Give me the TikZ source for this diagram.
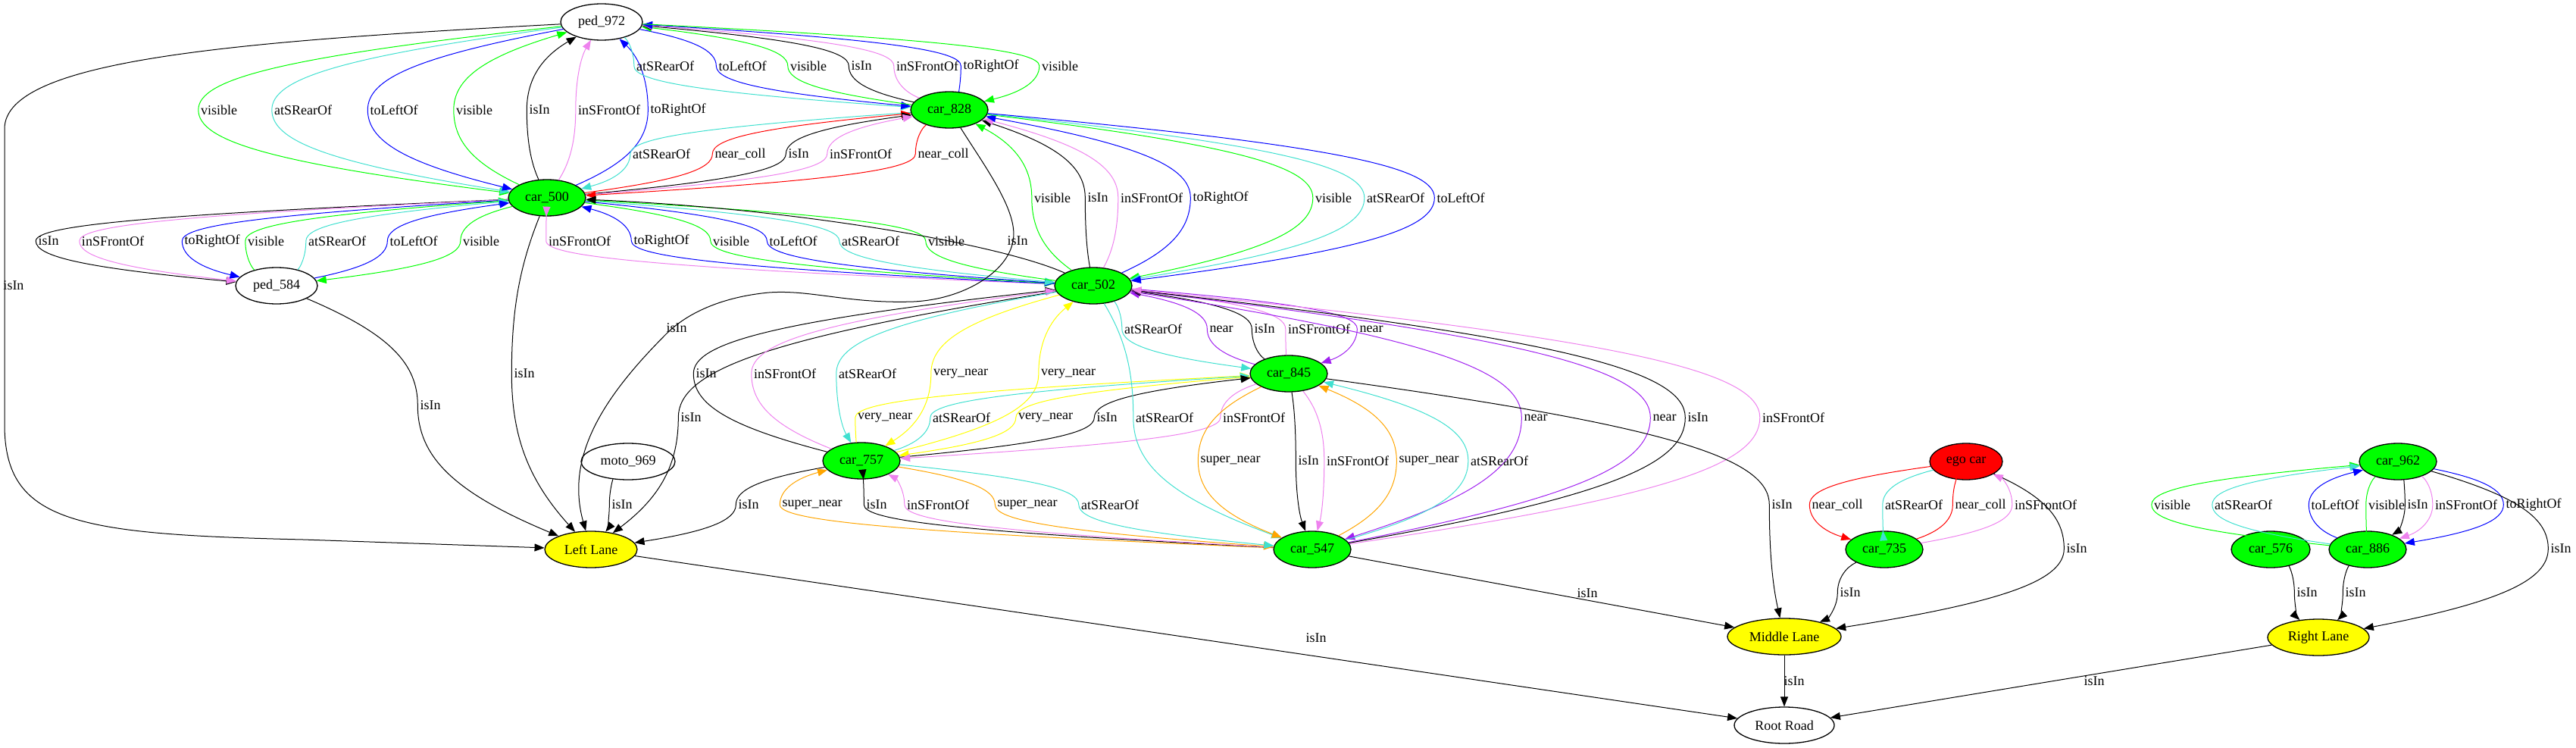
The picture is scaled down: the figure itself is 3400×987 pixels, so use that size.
\documentclass[tikz,border=0pt]{standalone}
\usepackage{fontspec}
\setmainfont{Liberation Serif}
\usetikzlibrary{shapes.geometric,arrows.meta,calc}
\definecolor{cG}{HTML}{00FF00}
\definecolor{cT}{HTML}{40E0D0}
\definecolor{cB}{HTML}{0000FF}
\definecolor{cV}{HTML}{EE82EE}
\definecolor{cP}{HTML}{A020F0}
\definecolor{cO}{HTML}{FFA500}
\definecolor{cY}{HTML}{FFFF00}
\definecolor{cR}{HTML}{FF0000}
\newcounter{lb}
% style, from, to, x, y, text
\newcommand\EL[6]{%
  \stepcounter{lb}%
  \node[lab] (L\thelb) at (#4,#5) {#6};%
  \draw[#1] let \p1=(#2), \p2=([xshift=-3pt]L\thelb.west), \p3=(#3) in
    (#2) .. controls ({\x1+0.8*(\x2-\x1)},{\y1+0.4*(\y2-\y1)}) and (\x2,{\y2-0.35*(\y2-\y1)}) .. (\p2)
    .. controls (\x2,{\y2+0.35*(\y3-\y2)}) and ({\x3+0.8*(\x2-\x3)},{\y3+0.4*(\y2-\y3)}) .. (#3);}
\begin{document}
\begin{tikzpicture}[x=1pt,y=-1pt,
  gv/.style={ellipse, draw, line width=1.3pt, inner sep=0pt, minimum height=48pt, font=\fontsize{18}{20}\selectfont},
  car/.style={gv, fill=cG, minimum width=102pt},
  lane/.style={gv, fill=cY},
  lab/.style={inner sep=0pt, font=\fontsize{18}{20}\selectfont},
  edge/.style={line width=1pt, -{Triangle[length=13pt,width=10pt]}},
  Ek/.style={edge, draw=black},
  Eg/.style={edge, draw=cG},
  Et/.style={edge, draw=cT},
  Eu/.style={edge, draw=cB},
  Ev/.style={edge, draw=cV},
  Ep/.style={edge, draw=cP},
  Eo/.style={edge, draw=cO},
  Ey/.style={edge, draw=cY},
  Er/.style={edge, draw=cR}]
\useasboundingbox (0,0) rectangle (3400,987);
% nodes
\node[gv, minimum width=108pt] (ped972) at (794,29) {ped\_972};
\node[car] (car828) at (1253,145) {car\_828};
\node[car] (car500) at (722,261) {car\_500};
\node[gv, minimum width=108pt] (ped584) at (365,377) {ped\_584};
\node[car] (car502) at (1443,377) {car\_502};
\node[car] (car845) at (1701,493) {car\_845};
\node[car] (car757) at (1137,608) {car\_757};
\node[gv, minimum width=124pt] (moto969) at (829,609) {moto\_969};
\node[lane, minimum width=122pt] (LL) at (780,725) {Left Lane};
\node[car] (car547) at (1732,725) {car\_547};
\node[gv, fill=cR, minimum width=96pt] (ego) at (2595,609) {ego car};
\node[car] (car735) at (2487,725) {car\_735};
\node[lane, minimum width=150pt] (ML) at (2355,840) {Middle Lane};
\node[gv, minimum width=132pt] (RR) at (2355,957) {Root Road};
\node[car] (car962) at (3165,609) {car\_962};
\node[car, minimum width=104pt] (car576) at (2997,725) {car\_576};
\node[car] (car886) at (3125,725) {car\_886};
\node[lane, minimum width=134pt] (RL) at (3060,841) {Right Lane};
% ped972 <-> car500
\EL{Eg}{ped972}{car500}{289}{145}{visible}
\EL{Et}{ped972}{car500}{400}{145}{atSRearOf}
\EL{Eu}{ped972}{car500}{520}{145}{toLeftOf}
\EL{Eg}{car500}{ped972}{626}{145}{visible}
\EL{Ek}{car500}{ped972}{712}{145}{isIn}
\EL{Ev}{car500}{ped972}{804}{145}{inSFrontOf}
\EL{Eu}{car500}{ped972}{895}{145}{toRightOf}
% ped972 <-> car828
\EL{Et}{ped972}{car828}{878}{87}{atSRearOf}
\EL{Eu}{ped972}{car828}{980}{87}{toLeftOf}
\EL{Eg}{car828}{ped972}{1067}{87}{visible}
\EL{Ek}{car828}{ped972}{1137}{87}{isIn}
\EL{Ev}{car828}{ped972}{1224}{87}{inSFrontOf}
\EL{Eu}{car828}{ped972}{1308}{87}{toRightOf}
\EL{Eg}{ped972}{car828}{1399}{87}{visible}
% car828 <-> car500
\EL{Et}{car828}{car500}{873}{203}{atSRearOf}
\EL{Er}{car500}{car828}{977}{203}{near\_coll}
\EL{Ek}{car500}{car828}{1054}{203}{isIn}
\EL{Ev}{car500}{car828}{1136}{203}{inSFrontOf}
\EL{Er}{car828}{car500}{1245}{203}{near\_coll}
% car828 <-> car502
\EL{Eg}{car502}{car828}{1389}{261}{visible}
\EL{Ek}{car502}{car828}{1449}{261}{isIn}
\EL{Ev}{car502}{car828}{1520}{261}{inSFrontOf}
\EL{Eu}{car502}{car828}{1611}{261}{toRightOf}
\EL{Eg}{car828}{car502}{1760}{261}{visible}
\EL{Et}{car828}{car502}{1842}{261}{atSRearOf}
\EL{Eu}{car828}{car502}{1928}{261}{toLeftOf}
% car500 <-> car502
\EL{Ev}{car502}{car500}{765}{318}{inSFrontOf}
\EL{Eu}{car502}{car500}{873}{318}{toRightOf}
\EL{Eg}{car500}{car502}{965}{318}{visible}
\EL{Eu}{car500}{car502}{1047}{318}{toLeftOf}
\EL{Et}{car500}{car502}{1149}{318}{atSRearOf}
\EL{Eg}{car502}{car500}{1249}{318}{visible}
\node[lab] (Lx1) at (1343,318) {isIn};
\draw[Ek] (car502) .. controls (1320,322) and (1050,275) .. (car500);
% car500 <-> ped584
\EL{Ek}{car500}{ped584}{64}{318}{isIn}
\EL{Ev}{car500}{ped584}{149}{318}{inSFrontOf}
\EL{Eu}{car500}{ped584}{280}{318}{toRightOf}
\EL{Eg}{ped584}{car500}{351}{318}{visible}
\EL{Et}{ped584}{car500}{445}{318}{atSRearOf}
\EL{Eu}{ped584}{car500}{546}{318}{toLeftOf}
\EL{Eg}{car500}{ped584}{635}{318}{visible}
% into Left Lane
\node[lab] (Lx2) at (18,377) {isIn};
\draw[Ek] (ped972) .. controls (300,55) and (6,80) .. (6,170) -- (6,560) .. controls (6,690) and (100,705) .. (400,712) -- (LL);
\EL{Ek}{ped584}{LL}{568}{535}{isIn}
\EL{Ek}{car500}{LL}{692}{493}{isIn}
\node[lab] (Lx3) at (893,433) {isIn};
\draw[Ek] (car828) .. controls (1300,220) and (1345,280) .. (1337,318) .. controls (1330,360) and (1270,395) .. (1206,398) .. controls (1120,401) and (1070,382) .. (1015,386) .. controls (950,392) and (905,415) .. (880,440) .. controls (800,520) and (745,600) .. (LL);
\EL{Ek}{car502}{LL}{912}{551}{isIn}
\EL{Ek}{moto969}{LL}{821}{666}{isIn}
\EL{Ek}{car757}{LL}{988}{666}{isIn}
% car502 <-> car757
\EL{Ek}{car757}{car502}{932}{493}{isIn}
\EL{Ev}{car757}{car502}{1036}{493}{inSFrontOf}
\EL{Et}{car502}{car757}{1145}{493}{atSRearOf}
\EL{Ey}{car502}{car757}{1268}{493}{very\_near}
\EL{Ey}{car757}{car502}{1410}{493}{very\_near}
% car845 <-> car757
\EL{Ey}{car757}{car845}{1168}{551}{very\_near}
\EL{Et}{car757}{car845}{1269}{551}{atSRearOf}
\EL{Ey}{car845}{car757}{1380}{551}{very\_near}
\EL{Ek}{car757}{car845}{1461}{551}{isIn}
\EL{Ev}{car845}{car757}{1655}{551}{inSFrontOf}
% car502 <-> car845
\EL{Et}{car502}{car845}{1522}{434}{atSRearOf}
\EL{Ep}{car845}{car502}{1612}{434}{near}
\EL{Ek}{car845}{car502}{1669}{434}{isIn}
\EL{Ev}{car845}{car502}{1741}{434}{inSFrontOf}
\EL{Ep}{car502}{car845}{1810}{434}{near}
% car502 <-> car547
\EL{Et}{car502}{car547}{1537}{551}{atSRearOf}
\EL{Ep}{car502}{car547}{2027}{551}{near}
\EL{Ep}{car547}{car502}{2197}{551}{near}
\EL{Ek}{car547}{car502}{2241}{551}{isIn}
\EL{Ev}{car547}{car502}{2367}{551}{inSFrontOf}
% car757 <-> car547
\EL{Eo}{car547}{car757}{1072}{666}{super\_near}
\EL{Ek}{car547}{car757}{1157}{666}{isIn}
\EL{Ev}{car547}{car757}{1238}{666}{inSFrontOf}
\EL{Eo}{car757}{car547}{1356}{666}{super\_near}
\EL{Et}{car757}{car547}{1465}{666}{atSRearOf}
% car845 <-> car547
\EL{Eo}{car845}{car547}{1624}{608}{super\_near}
\EL{Ek}{car845}{car547}{1727}{608}{isIn}
\EL{Ev}{car845}{car547}{1792}{608}{inSFrontOf}
\EL{Eo}{car547}{car845}{1886}{608}{super\_near}
\EL{Et}{car547}{car845}{1979}{608}{atSRearOf}
% Middle Lane, Root Road
\EL{Ek}{car845}{ML}{2352}{666}{isIn}
\node[lab] (Lx4) at (2095,783) {isIn};
\draw[Ek] (car547) -- (ML);
\EL{Ek}{ego}{ML}{2741}{724}{isIn}
\EL{Ek}{car735}{ML}{2442}{782}{isIn}
\node[lab] (Lx5) at (2368,899) {isIn};
\draw[Ek] (ML) -- (RR);
\node[lab] (Lx6) at (1737,842) {isIn};
\draw[Ek] (LL) -- (RR);
\node[lab] (Lx7) at (2764,899) {isIn};
\draw[Ek] (RL) -- (RR);
% ego group
\EL{Er}{ego}{car735}{2425}{666}{near\_coll}
\EL{Et}{ego}{car735}{2526}{666}{atSRearOf}
\EL{Er}{car735}{ego}{2614}{666}{near\_coll}
\EL{Ev}{car735}{ego}{2700}{666}{inSFrontOf}
% car962 group
\EL{Eg}{car886}{car962}{2867}{666}{visible}
\EL{Et}{car886}{car962}{2961}{666}{atSRearOf}
\EL{Eu}{car886}{car962}{3082}{666}{toLeftOf}
\EL{Eg}{car962}{car886}{3150}{666}{visible}
\EL{Ek}{car962}{car886}{3191}{666}{isIn}
\EL{Ev}{car962}{car886}{3255}{666}{inSFrontOf}
\EL{Eu}{car962}{car886}{3344}{666}{toRightOf}
\EL{Ek}{car962}{RL}{3380}{724}{isIn}
\EL{Ek}{car576}{RL}{3045}{782}{isIn}
\EL{Ek}{car886}{RL}{3109}{782}{isIn}
\end{tikzpicture}
\end{document}
